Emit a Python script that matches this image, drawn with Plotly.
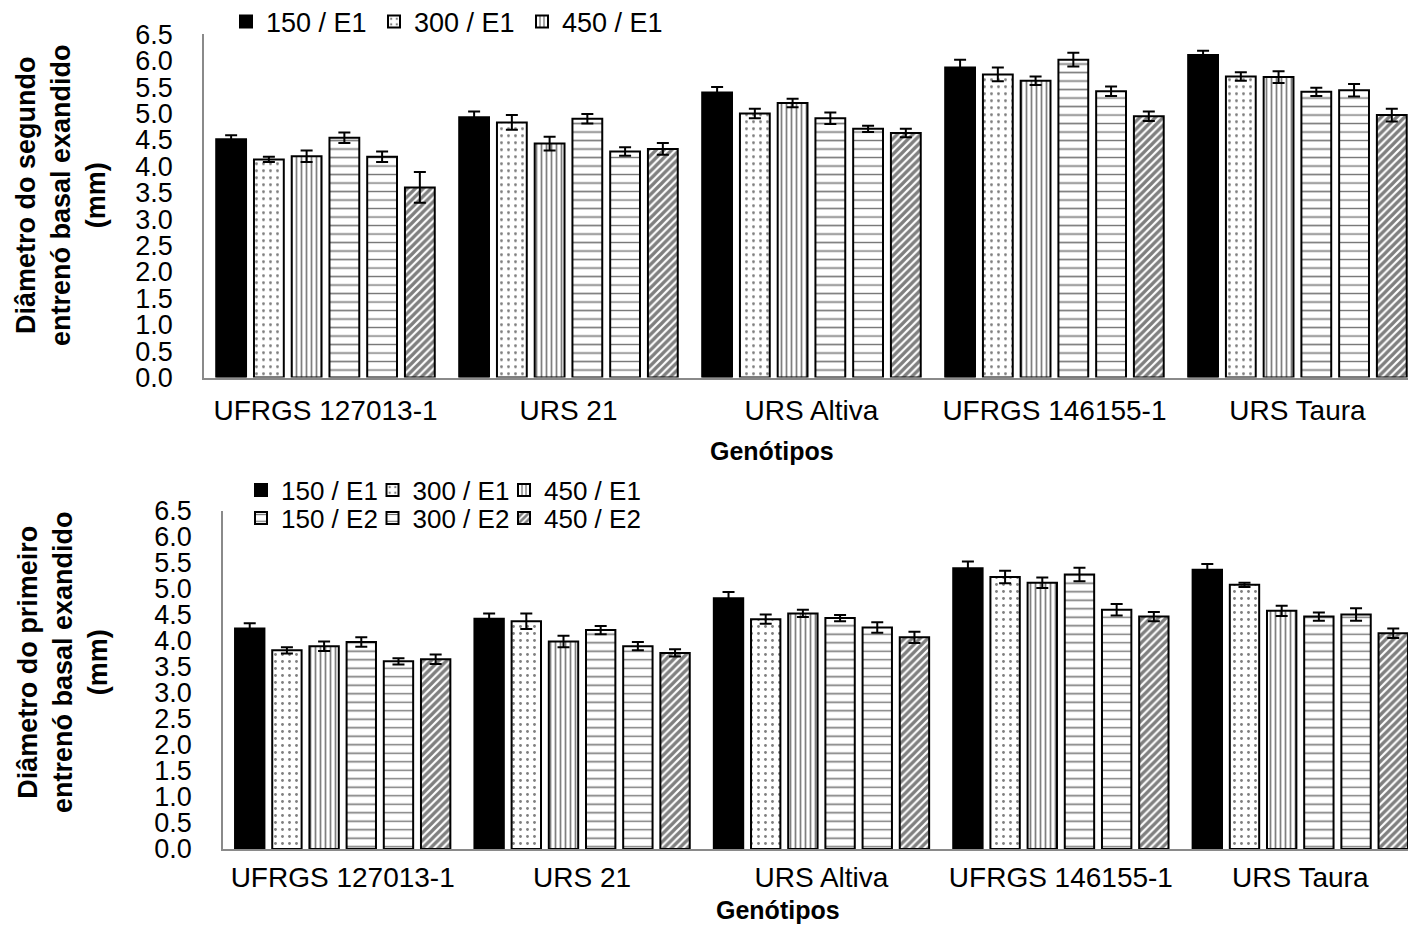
import plotly.graph_objects as go

# Genotypes on the x axis
genotypes = ["UFRGS 127013-1", "URS 21", "URS Altiva", "UFRGS 146155-1", "URS Taura"]

# Treatment series (dose / environment)
series_names = ["150 / E1", "300 / E1", "450 / E1", "150 / E2", "300 / E2", "450 / E2"]

# Diameter of the second expanded basal internode (mm)
segundo_150_e1 = [4.51, 4.93, 5.40, 5.87, 6.11]
segundo_300_e1 = [4.13, 4.83, 5.00, 5.74, 5.70]
segundo_450_e1 = [4.19, 4.43, 5.20, 5.62, 5.69]
segundo_150_e2 = [4.54, 4.90, 4.91, 6.02, 5.41]
segundo_300_e2 = [4.18, 4.28, 4.71, 5.42, 5.44]
segundo_450_e2 = [3.60, 4.33, 4.63, 4.95, 4.97]

segundo_err_150_e1 = [0.08, 0.11, 0.10, 0.15, 0.08]
segundo_err_300_e1 = [0.05, 0.14, 0.09, 0.13, 0.08]
segundo_err_450_e1 = [0.11, 0.13, 0.08, 0.08, 0.11]
segundo_err_150_e2 = [0.10, 0.09, 0.11, 0.13, 0.08]
segundo_err_300_e2 = [0.10, 0.08, 0.06, 0.09, 0.12]
segundo_err_450_e2 = [0.29, 0.11, 0.08, 0.09, 0.12]

# Diameter of the first expanded basal internode (mm)
primeiro_150_e1 = [4.24, 4.43, 4.82, 5.40, 5.37]
primeiro_300_e1 = [3.82, 4.38, 4.42, 5.23, 5.08]
primeiro_450_e1 = [3.90, 3.99, 4.53, 5.12, 4.58]
primeiro_150_e2 = [3.98, 4.21, 4.44, 5.28, 4.47]
primeiro_300_e2 = [3.61, 3.90, 4.26, 4.60, 4.51]
primeiro_450_e2 = [3.65, 3.77, 4.07, 4.47, 4.15]

primeiro_err_150_e1 = [0.10, 0.10, 0.12, 0.13, 0.11]
primeiro_err_300_e1 = [0.06, 0.15, 0.09, 0.12, 0.04]
primeiro_err_450_e1 = [0.09, 0.11, 0.07, 0.10, 0.10]
primeiro_err_150_e2 = [0.09, 0.08, 0.06, 0.13, 0.08]
primeiro_err_300_e2 = [0.06, 0.08, 0.10, 0.11, 0.12]
primeiro_err_450_e2 = [0.09, 0.07, 0.11, 0.09, 0.09]

y_ticks = [i * 0.5 for i in range(14)]

segundo = [segundo_150_e1, segundo_300_e1, segundo_450_e1,
           segundo_150_e2, segundo_300_e2, segundo_450_e2]
segundo_err = [segundo_err_150_e1, segundo_err_300_e1, segundo_err_450_e1,
               segundo_err_150_e2, segundo_err_300_e2, segundo_err_450_e2]
primeiro = [primeiro_150_e1, primeiro_300_e1, primeiro_450_e1,
            primeiro_150_e2, primeiro_300_e2, primeiro_450_e2]
primeiro_err = [primeiro_err_150_e1, primeiro_err_300_e1, primeiro_err_450_e1,
                primeiro_err_150_e2, primeiro_err_300_e2, primeiro_err_450_e2]

W, H = 1408, 927
FONT = "Liberation Sans, Arial, sans-serif"

# Black-and-white fill styles, one per treatment
styles = [
    dict(color="black"),
    dict(color="white", pattern=dict(shape=".", fgcolor="black", bgcolor="white", size=7, solidity=0.13)),
    dict(color="white", pattern=dict(shape="|", fgcolor="black", bgcolor="white", size=5, solidity=0.35)),
    dict(color="white", pattern=dict(shape="-", fgcolor="black", bgcolor="white", size=8.5, solidity=0.2)),
    dict(color="white", pattern=dict(shape="-", fgcolor="black", bgcolor="white", size=8.5, solidity=0.16, fgopacity=0.55)),
    dict(color="white", pattern=dict(shape="/", fgcolor="black", bgcolor="white", size=5.5, solidity=0.6)),
]


def px_x(x):
    return x / W


def px_y(y):
    return 1 - y / H


fig = go.Figure()

for i, name in enumerate(series_names):
    marker = dict(line=dict(color="black", width=2), **styles[i])
    fig.add_trace(go.Bar(
        x=genotypes, y=segundo[i], name=name,
        error_y=dict(type="data", array=segundo_err[i], color="black", thickness=2, width=6),
        marker=marker, xaxis="x", yaxis="y",
        legend="legend", showlegend=i < 3,
        legendwidth=103 if i < 2 else 120,
    ))

for i, name in enumerate(series_names):
    marker = dict(line=dict(color="black", width=2), **styles[i])
    fig.add_trace(go.Bar(
        x=genotypes, y=primeiro[i], name=name,
        error_y=dict(type="data", array=primeiro_err[i], color="black", thickness=2, width=6),
        marker=marker, xaxis="x2", yaxis="y2",
        legend="legend2" if i < 3 else "legend3",
        legendwidth=86.5 if i % 3 < 2 else 120,
    ))

axis_common = dict(showline=True, linecolor="#8a8a8a", linewidth=1.5, showgrid=False,
                   zeroline=False, ticks="", tickfont=dict(family=FONT, size=28, color="black"),
                   automargin=False)

y_common = dict(axis_common, range=[0, 6.5], tickvals=y_ticks,
                ticktext=[f"{v:.1f}" for v in y_ticks], ticklabelstandoff=24,
                tickfont=dict(family=FONT, size=27, color="black"))

legend_common = dict(orientation="h", xanchor="left", yanchor="middle",
                     font=dict(family=FONT, size=27, color="black"),
                     bgcolor="rgba(0,0,0,0)", borderwidth=0, entrywidthmode="pixels")

legend_small = dict(legend_common, font=dict(family=FONT, size=26, color="black"))

fig.update_layout(
    width=W, height=H, autosize=False,
    margin=dict(l=0, r=0, t=0, b=0, autoexpand=False),
    paper_bgcolor="white", plot_bgcolor="white",
    barmode="group", bargap=0.068, bargroupgap=0.21,
    font=dict(family=FONT, color="black"),
    xaxis=dict(axis_common, domain=[px_x(204), 1], range=[-0.5, 4.455], anchor="y",
               ticklabelstandoff=7),
    yaxis=dict(y_common, domain=[px_y(377.5), px_y(34.3)], anchor="x"),
    xaxis2=dict(axis_common, domain=[px_x(223), 1], range=[-0.5, 4.45], anchor="y2",
                ticklabelstandoff=3),
    yaxis2=dict(y_common, domain=[px_y(849), px_y(511)], anchor="x2"),
    legend=dict(legend_common, x=px_x(226), y=px_y(22)),
    legend2=dict(legend_small, x=px_x(241), y=px_y(490)),
    legend3=dict(legend_small, x=px_x(241), y=px_y(518)),
    annotations=[
        dict(text="<b>Diâmetro do segundo<br>entrenó basal exandido<br>(mm)</b>",
             x=px_x(61), y=px_y(195), xref="paper", yref="paper", textangle=-90,
             showarrow=False, xanchor="center", yanchor="middle",
             font=dict(family=FONT, size=27, color="black")),
        dict(text="<b>Genótipos</b>", x=px_x(772), y=px_y(451), xref="paper", yref="paper",
             showarrow=False, xanchor="center", yanchor="middle",
             font=dict(family=FONT, size=25, color="black")),
        dict(text="<b>Diâmetro do primeiro<br>entrenó basal exandido<br>(mm)</b>",
             x=px_x(63), y=px_y(662), xref="paper", yref="paper", textangle=-90,
             showarrow=False, xanchor="center", yanchor="middle",
             font=dict(family=FONT, size=27, color="black")),
        dict(text="<b>Genótipos</b>", x=px_x(778), y=px_y(910), xref="paper", yref="paper",
             showarrow=False, xanchor="center", yanchor="middle",
             font=dict(family=FONT, size=25, color="black")),
    ],
)

fig.write_html("out.html")
